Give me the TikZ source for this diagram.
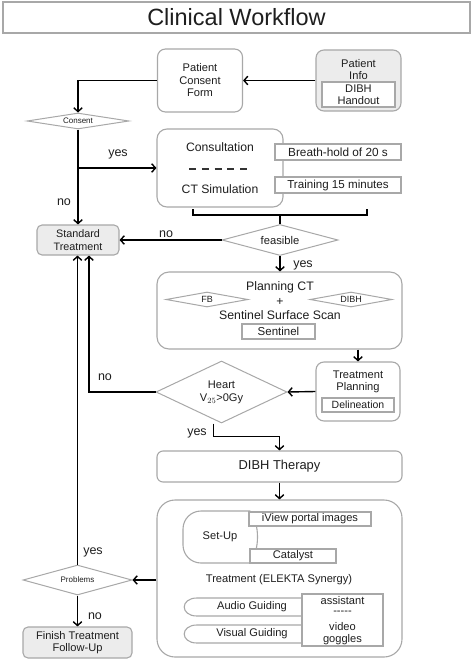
\documentclass[tikz,border=0pt]{standalone}
\usepackage{fontspec}
\setmainfont{Liberation Sans}
\usetikzlibrary{shapes.geometric,arrows.meta}
\definecolor{bcol}{HTML}{A8A8A8}
\definecolor{gfill}{HTML}{ECECEC}
\definecolor{tcol}{HTML}{1E1E1E}
\begin{document}
\begin{tikzpicture}[x=1pt,y=-1pt,
  every node/.style={text=tcol},
  box/.style={draw=bcol,line width=1.1pt,rounded corners=8pt,fill=white,inner sep=0pt,align=center},
  gbox/.style={box,fill=gfill},
  rbox/.style={draw=bcol,line width=1.1pt,fill=white,inner sep=0pt,align=center},
  dia/.style={shape=diamond,draw=bcol,line width=1pt,fill=white,inner sep=0pt,align=center},
  arr/.style={line width=1.4pt,black,-{Straight Barb[length=3.8pt,width=8.5pt,line width=1.4pt]}},
  ln/.style={line width=1.4pt,black},
  lbl/.style={font=\fontsize{12.5}{13}\selectfont},
  f13/.style={font=\fontsize{12.3}{13}\selectfont},
  f12/.style={font=\fontsize{12.2}{12.5}\selectfont},
  f11/.style={font=\fontsize{11.1}{12.5}\selectfont},
  f10/.style={font=\fontsize{10.8}{12.5}\selectfont},
  f8/.style={font=\fontsize{9}{9}\selectfont},
]
\useasboundingbox (0,0) rectangle (472,661);

% title
\node[draw=bcol,line width=1.5pt,minimum width=467,minimum height=31,inner sep=0pt,
      font=\fontsize{23.5}{26}\selectfont] (title) at (236.5,17.5) {Clinical Workflow};

% top row
\node[box,f11,minimum width=85,minimum height=63] (pcf) at (200,80.5) {Patient\\Consent\\Form};
\node[gbox,minimum width=85,minimum height=61] (pinfo) at (358.5,80.5) {};
\node[f11,align=center,inner sep=0pt] (pinfot) at (358.5,69.5) {Patient\\Info};
\node[rbox,f11,minimum width=73,minimum height=25] (handout) at (358.5,94.5) {DIBH\\Handout};

\draw[arr] (pinfo.west) -- (pcf.east);

% consent diamond
\node[dia,minimum width=102,minimum height=16,aspect=6.4,font=\fontsize{8}{8}\selectfont] (consent) at (78,121) {Consent};
\draw[arr] (pcf.west) -| (consent.north);

% consultation
\node[box,rounded corners=10pt,minimum width=126,minimum height=78] (consult) at (220,168) {};
\node[f12,inner sep=0pt] (consT) at (220,147) {Consultation};
\node[f12,inner sep=0pt] (ctsim) at (220,189) {CT Simulation};
\coordinate (dashL) at (189,169);
\coordinate (dashR) at (247,169);
\draw[line width=1.8pt,black!80,dash pattern=on 7pt off 5.75pt] (dashL) -- (dashR);
\node[rbox,font=\fontsize{11.8}{12.5}\selectfont,minimum width=126,minimum height=16] (breath) at (338,152) {Breath-hold of 20 s};
\node[rbox,font=\fontsize{11.6}{12.5}\selectfont,minimum width=126,minimum height=16] (training) at (338,185) {Training 15 minutes};

% standard treatment
\node[gbox,f10,minimum width=82,minimum height=30,rounded corners=5pt] (std) at (78,240) {Standard\\Treatment};
\draw[arr] (consent.south) -- (std.north);
\node[lbl] (lno1) at (64,202) {no};
\coordinate (br1) at (78,168);
\draw[arr] (br1) -- (consult.west);
\node[lbl] (lyes1) at (118,154) {yes};

% brace and feasible
\node[dia,minimum width=116,minimum height=31,aspect=3.74,font=\fontsize{11.2}{12}\selectfont] (feas) at (280,240) {feasible};
\coordinate (bl) at (193,209);
\coordinate (br) at (367,209);
\draw[ln] (bl) -- (193,215) -- (367,215) -- (br);
\draw[ln] (280,215) -- (feas.north);
\draw[arr] (feas.west) -- (std.east);
\node[lbl] (lno2) at (166,234) {no};

% planning
\node[box,rounded corners=12pt,minimum width=245,minimum height=77] (plan) at (279.5,310.5) {};
\draw[arr] (feas.south) -- (feas.south |- plan.north);
\node[lbl] (lyes2) at (303,265) {yes};
\node[f13,inner sep=0pt] (pct) at (280,287) {Planning CT};
\node[f12,inner sep=0pt] (plus) at (280,301.5) {+};
\node[f13,inner sep=0pt] (sss) at (280,315) {Sentinel Surface Scan};
\node[dia,minimum width=82,minimum height=15,aspect=5.5,f8] (fb) at (207,299.5) {FB};
\node[dia,minimum width=82,minimum height=15,aspect=5.5,f8] (dibhd) at (351,299.5) {DIBH};
\node[rbox,font=\fontsize{11.5}{12}\selectfont,minimum width=73,minimum height=15] (sentinel) at (278.5,331.5) {Sentinel};

% treatment planning
\node[box,minimum width=84,minimum height=59] (tp) at (358,391.5) {};
\node[f11,align=center,inner sep=0pt] (tpt) at (358,382) {Treatment\\Planning};
\node[rbox,font=\fontsize{10.5}{12}\selectfont,minimum width=72,minimum height=14] (delin) at (358,405) {Delineation};
\draw[arr] (plan.south -| tp.north) -- (tp.north);

% heart
\node[dia,minimum width=131,minimum height=62,aspect=2.11] (heart) at (221.5,392) {};
\node[f11,inner sep=0pt,align=center] (heartt) at (221.5,392.5) {Heart\\V$_{25}$>0Gy};
\draw[arr] (tp.west) -- (heart.east);
\draw[arr] (heart.west) -| ([xshift=11pt]std.south);
\node[lbl] (lno3) at (105,377) {no};

% DIBH therapy
\node[box,font=\fontsize{12.9}{13}\selectfont,minimum width=245,minimum height=31,rounded corners=6pt] (dibh) at (279.5,466.5) {DIBH Therapy};
\draw[arr] ([xshift=-8pt]heart.south) -- ++(0,13) -| (dibh.north);
\node[lbl] (lyes3) at (197,433) {yes};

% treatment box
\node[box,rounded corners=18pt,minimum width=245,minimum height=157] (treat) at (279.5,578.5) {};
\draw[arr] (dibh.south) -- (treat.north);

% set-up
\draw[draw=bcol,line width=1.1pt] (250,511) [rounded corners=18pt] -- (183,511) -- (183,563) [sharp corners] -- (250,563) .. controls (260,550) and (260,524) .. (250,511);
\node[f11,inner sep=0pt] (setup) at (220,537) {Set-Up};
\node[rbox,f11,minimum width=122,minimum height=14] (iview) at (310,519) {iView portal images};
\node[rbox,f11,minimum width=86,minimum height=14] (catalyst) at (293,556) {Catalyst};
\node[f11,inner sep=0pt] (elekta) at (279,580) {Treatment (ELEKTA Synergy)};

% guiding
\draw[draw=bcol,line width=1.1pt] (302,598) -- (197,598) .. controls (180,598) and (180,616) .. (197,616) -- (302,616);
\draw[draw=bcol,line width=1.1pt] (302,625) -- (197,625) .. controls (180,625) and (180,643) .. (197,643) -- (302,643);
\node[f11,inner sep=0pt] (audio) at (252,607) {Audio Guiding};
\node[f11,inner sep=0pt] (visual) at (252,634) {Visual Guiding};
\node[rbox,minimum width=81,minimum height=52] (assist) at (342.5,620) {};
\node[f11,inner sep=0pt] (a1) at (342.5,601) {assistant};
\node[f11,inner sep=0pt] (a2) at (342.5,613) {{-}{-}{-}{-}{-}};
\node[f11,inner sep=0pt] (a3) at (342.5,627) {video};
\node[f11,inner sep=0pt] (a4) at (342.5,640) {goggles};

% problems
\node[dia,minimum width=109,minimum height=30,aspect=3.63,font=\fontsize{8}{8}\selectfont] (prob) at (77.5,580) {Problems};
\draw[arr] (treat.west |- prob.east) -- (prob.east);
\draw[arr] (prob.north) -- (prob.north |- std.south);
\node[lbl] (lyes4) at (93,552) {yes};
\node[gbox,f11,minimum width=109,minimum height=31,rounded corners=5pt] (finish) at (77.5,642.5) {Finish Treatment\\Follow-Up};
\draw[arr] (prob.south) -- (finish.north);
\node[lbl] (lno4) at (95,616) {no};
\end{tikzpicture}
\end{document}
